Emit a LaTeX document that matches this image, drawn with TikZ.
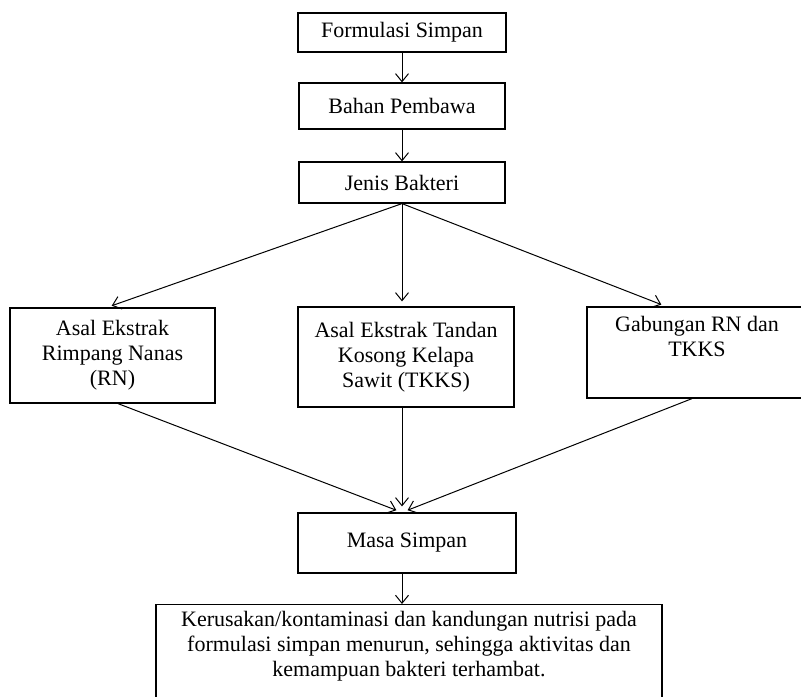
\documentclass[tikz,border=0pt]{standalone}
\usepackage{fontspec}
\setmainfont{Liberation Serif}
\usetikzlibrary{arrows.meta}

\begin{document}
\begin{tikzpicture}[x=0.5pt, y=-0.5pt, font=\fontsize{11}{12.6}\selectfont]

\tikzstyle{formulasi} = [rectangle, text centered, align=center, draw=black, line width=0.6pt, minimum width=104pt, minimum height=19.5pt]
\tikzstyle{pembawa} = [rectangle, text centered, align=center, draw=black, line width=0.6pt, minimum width=103pt, minimum height=23pt]
\tikzstyle{bakteri} = [rectangle, text centered, align=center, draw=black, line width=0.6pt, minimum width=103pt, minimum height=20.5pt]
\tikzstyle{ekstrak rn} = [rectangle, text centered, align=center, draw=black, line width=0.6pt, minimum width=102.5pt, minimum height=47.5pt]
\tikzstyle{ekstrak tkks} = [rectangle, text centered, align=center, draw=black, line width=0.6pt, minimum width=108pt, minimum height=50pt]
\tikzstyle{gabungan} = [rectangle, text centered, align=center, draw=black, line width=0.6pt, minimum width=110pt, minimum height=45.5pt]
\tikzstyle{masa} = [rectangle, text centered, align=center, draw=black, line width=0.6pt, minimum width=109pt, minimum height=30pt]
\tikzstyle{hasil} = [rectangle, text centered, align=center, draw=black, line width=0.6pt, minimum width=253pt, minimum height=55pt]

\tikzstyle{arrow} = [line width=0.5pt,->,>={Straight Barb[length=4pt,width=6.5pt]}]

\useasboundingbox (0,0) rectangle (801,696);

\node (fs) [formulasi] at (402,32.5) {Formulasi Simpan};
\node (bp) [pembawa] at (402,106) {Bahan Pembawa};
\node (jb) [bakteri] at (402,182.5) {Jenis Bakteri};
\node (rn) [ekstrak rn] at (112.5,355.5) {Asal Ekstrak\\Rimpang Nanas\\(RN)};
\node (tkks) [ekstrak tkks] at (406,357) {Asal Ekstrak Tandan\\Kosong Kelapa\\Sawit (TKKS)};
\node (gab) [gabungan] at (697,352.5) {Gabungan RN dan\\TKKS\\ \strut};
\node (ms) [masa] at (407,543) {Masa Simpan};
\node (hs) [hasil, anchor=north] at (409,604) {Kerusakan/kontaminasi dan kandungan nutrisi pada\\formulasi simpan menurun, sehingga aktivitas dan\\kemampuan bakteri terhambat.\\ \strut};

\draw [arrow] (fs) -- (bp);
\draw [arrow] (bp) -- (jb);
\draw [arrow, shorten >=2.5pt] (jb.south) -- ([xshift=-2.75pt]rn.north);
\draw [arrow, shorten >=2.5pt] (jb.south) -- ([xshift=-2pt]tkks.north);
\draw [arrow, shorten >=2.5pt] (jb.south) -- ([xshift=-15.5pt]gab.north);
\draw [arrow, shorten >=3pt] ([xshift=2.75pt]rn.south) -- ([xshift=-2.5pt]ms.north);
\draw [arrow, shorten >=3pt] ([xshift=-2pt]tkks.south) -- ([xshift=-2.5pt]ms.north);
\draw [arrow, shorten >=3pt] ([xshift=-2.5pt]gab.south) -- ([xshift=-2.5pt]ms.north);
\draw [arrow] ([xshift=-2.5pt]ms.south) -- ([xshift=-2.5pt]ms.south |- hs.north);

\end{tikzpicture}
\end{document}
